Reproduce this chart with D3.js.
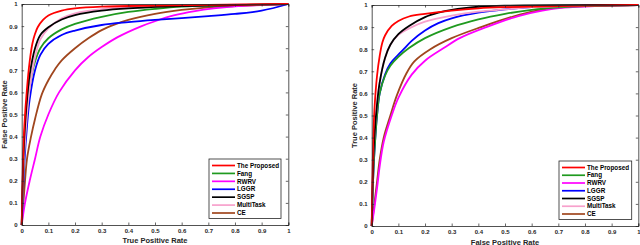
<!DOCTYPE html>
<html>
<head>
<meta charset="utf-8">
<script src="https://cdn.jsdelivr.net/npm/d3@7"></script>
<style>
  body { margin: 0; background: #fff; }
  svg { display: block; font-family: "Liberation Sans", Arial, sans-serif; }
</style>
</head>
<body>
<div id="chart"></div>
<script>
// ---------------- data ----------------
var methods = ["The Proposed", "Fang", "RWRV", "LGGR", "SGSP", "MultiTask", "CE"];
var colors  = ["#ff0000", "#1f9a1f", "#ff00ff", "#0000ff", "#000000", "#f7a1cc", "#a0461e"];
var ticks = [0, 0.1, 0.2, 0.3, 0.4, 0.5, 0.6, 0.7, 0.8, 0.9, 1];

// left panel curves [x, y]
var leftProposed = [[0,0],[0.005,0.3],[0.01,0.45],[0.02,0.62],[0.03,0.74],[0.04,0.82],[0.05,0.865],[0.06,0.895],[0.08,0.928],[0.1,0.948],[0.15,0.97],[0.2,0.98],[0.3,0.988],[0.5,0.993],[0.7,0.996],[1,1]];
var leftFang = [[0,0],[0.005,0.2],[0.01,0.35],[0.02,0.52],[0.03,0.63],[0.05,0.74],[0.07,0.8],[0.1,0.845],[0.15,0.885],[0.2,0.91],[0.3,0.942],[0.4,0.964],[0.5,0.978],[0.6,0.988],[0.8,0.995],[1,1]];
var leftRWRV = [[0,0],[0.0125,0.1],[0.03,0.2],[0.05,0.3],[0.07,0.4],[0.1,0.5],[0.14,0.6],[0.2,0.7],[0.25,0.76],[0.3,0.805],[0.36,0.85],[0.45,0.9],[0.5,0.922],[0.57,0.948],[0.65,0.968],[0.72,0.98],[0.8,0.989],[0.9,0.995],[1,1]];
var leftLGGR = [[0,0],[0.005,0.15],[0.01,0.28],[0.02,0.45],[0.03,0.57],[0.05,0.7],[0.07,0.77],[0.1,0.82],[0.15,0.86],[0.2,0.88],[0.3,0.905],[0.4,0.918],[0.5,0.928],[0.6,0.936],[0.7,0.945],[0.8,0.955],[0.9,0.97],[1,1]];
var leftSGSP = [[0,0],[0.005,0.25],[0.01,0.4],[0.02,0.57],[0.03,0.68],[0.05,0.8],[0.07,0.86],[0.1,0.895],[0.15,0.93],[0.2,0.95],[0.3,0.97],[0.4,0.98],[0.6,0.99],[0.8,0.995],[1,1]];
var leftMultiTask = [[0,0],[0.005,0.2],[0.01,0.33],[0.02,0.5],[0.03,0.62],[0.05,0.76],[0.07,0.84],[0.1,0.89],[0.15,0.935],[0.2,0.958],[0.3,0.977],[0.5,0.99],[0.7,0.995],[1,1]];
var leftCE = [[0,0],[0.01,0.16],[0.02,0.3],[0.035,0.4],[0.05,0.48],[0.075,0.59],[0.1,0.655],[0.125,0.705],[0.15,0.745],[0.2,0.8],[0.25,0.845],[0.3,0.882],[0.35,0.908],[0.4,0.928],[0.5,0.955],[0.6,0.973],[0.7,0.985],[0.8,0.991],[0.9,0.996],[1,1]];

// right panel curves [x, y]
var rightProposed = [[0,0],[0.005,0.35],[0.01,0.52],[0.02,0.68],[0.03,0.77],[0.04,0.83],[0.05,0.862],[0.075,0.905],[0.1,0.928],[0.14,0.948],[0.2,0.96],[0.3,0.975],[0.4,0.985],[0.5,0.99],[0.7,0.995],[1,1]];
var rightFang = [[0,0],[0.005,0.2],[0.01,0.33],[0.02,0.5],[0.03,0.6],[0.05,0.68],[0.07,0.725],[0.1,0.765],[0.14,0.805],[0.2,0.85],[0.3,0.9],[0.4,0.935],[0.5,0.96],[0.6,0.978],[0.7,0.989],[0.8,0.995],[1,1]];
var rightRWRV = [[0,0],[0.01,0.08],[0.02,0.17],[0.03,0.27],[0.045,0.38],[0.075,0.5],[0.1,0.58],[0.15,0.685],[0.2,0.748],[0.27,0.805],[0.33,0.85],[0.43,0.9],[0.55,0.95],[0.64,0.975],[0.72,0.988],[0.85,0.996],[1,1]];
var rightLGGR = [[0,0],[0.005,0.2],[0.01,0.33],[0.02,0.5],[0.03,0.6],[0.05,0.685],[0.07,0.735],[0.1,0.775],[0.12,0.8],[0.15,0.838],[0.2,0.885],[0.25,0.918],[0.3,0.94],[0.4,0.965],[0.5,0.98],[0.6,0.99],[0.8,0.997],[1,1]];
var rightSGSP = [[0,0],[0.005,0.25],[0.01,0.4],[0.02,0.55],[0.03,0.65],[0.05,0.76],[0.07,0.82],[0.1,0.868],[0.14,0.905],[0.2,0.945],[0.25,0.965],[0.3,0.978],[0.4,0.992],[0.5,0.997],[1,1]];
var rightMultiTask = [[0,0],[0.005,0.25],[0.01,0.4],[0.02,0.55],[0.03,0.65],[0.05,0.76],[0.07,0.82],[0.1,0.865],[0.15,0.9],[0.2,0.925],[0.3,0.952],[0.4,0.97],[0.5,0.98],[0.6,0.99],[0.8,0.997],[1,1]];
var rightCE = [[0,0],[0.01,0.1],[0.02,0.2],[0.03,0.3],[0.045,0.4],[0.07,0.5],[0.094,0.59],[0.13,0.69],[0.16,0.745],[0.22,0.8],[0.3,0.85],[0.41,0.9],[0.53,0.948],[0.62,0.975],[0.7,0.988],[0.85,0.997],[1,1]];

var leftSeries  = [leftProposed, leftFang, leftRWRV, leftLGGR, leftSGSP, leftMultiTask, leftCE];
var rightSeries = [rightProposed, rightFang, rightRWRV, rightLGGR, rightSGSP, rightMultiTask, rightCE];

// draw order: back to front (brown/magenta first, red on top)
var drawOrder = [6, 2, 3, 1, 5, 4, 0];

var svg = d3.select("#chart").append("svg")
    .attr("width", 640).attr("height", 245);

function panel(opt) {
    var x = d3.scaleLinear().domain([0, 1]).range([opt.left, opt.right]);
    var y = d3.scaleLinear().domain([0, 1]).range([opt.bottom, opt.top]);
    var g = svg.append("g");
    var axisColor = "#262626";

    // curves
    var line = d3.line()
        .x(function (d) { return x(d[0]); })
        .y(function (d) { return y(d[1]); })
        .curve(d3.curveCatmullRom.alpha(0.5));
    drawOrder.forEach(function (i) {
        g.append("path")
            .datum(opt.series[i])
            .attr("fill", "none")
            .attr("stroke", colors[i])
            .attr("stroke-width", 1.8)
            .attr("stroke-linejoin", "round")
            .attr("d", line);
    });

    // axes (MATLAB style: inward ticks on all four sides, box on)
    var tickLen = 2.5;
    g.append("g").attr("transform", "translate(0," + opt.bottom + ")")
        .call(d3.axisBottom(x).tickValues(ticks).tickSize(-tickLen).tickPadding(4)
            .tickFormat(d3.format("~g")));
    g.append("g").attr("transform", "translate(0," + opt.top + ")")
        .call(d3.axisTop(x).tickValues(ticks).tickSize(-tickLen).tickFormat(""));
    g.append("g").attr("transform", "translate(" + opt.left + ",0)")
        .call(d3.axisLeft(y).tickValues(ticks).tickSize(-tickLen).tickPadding(4)
            .tickFormat(d3.format("~g")));
    g.append("g").attr("transform", "translate(" + opt.right + ",0)")
        .call(d3.axisRight(y).tickValues(ticks).tickSize(-tickLen).tickFormat(""));
    g.selectAll(".domain").attr("stroke", axisColor).attr("stroke-width", 0.8);
    g.selectAll(".tick line").attr("stroke", axisColor).attr("stroke-width", 0.7);
    g.selectAll(".tick text")
        .attr("fill", axisColor)
        .style("font-size", "6px")
        .style("font-weight", "bold");

    // axis titles
    g.append("text")
        .attr("x", (opt.left + opt.right) / 2)
        .attr("y", opt.xTitleY)
        .attr("text-anchor", "middle")
        .attr("fill", axisColor)
        .style("font-size", "7.5px").style("font-weight", "bold")
        .text(opt.xTitle);
    g.append("text")
        .attr("transform", "translate(" + opt.yTitleX + "," + (opt.top + opt.bottom) / 2 + ") rotate(-90)")
        .attr("text-anchor", "middle")
        .attr("fill", axisColor)
        .style("font-size", "7.5px").style("font-weight", "bold")
        .text(opt.yTitle);

    // legend
    var lg = g.append("g");
    lg.append("rect")
        .attr("x", opt.legend.x).attr("y", opt.legend.y)
        .attr("width", opt.legend.w).attr("height", opt.legend.h)
        .attr("fill", "#fff").attr("stroke", axisColor).attr("stroke-width", 0.8);
    var rowH = (opt.legend.h - 12) / (methods.length - 1);
    methods.forEach(function (m, i) {
        var ry = opt.legend.y + 6.5 + i * rowH;
        lg.append("line")
            .attr("x1", opt.legend.x + 3).attr("x2", opt.legend.x + 26)
            .attr("y1", ry).attr("y2", ry)
            .attr("stroke", colors[i]).attr("stroke-width", 1.7);
        lg.append("text")
            .attr("x", opt.legend.x + 28).attr("y", ry + 2.2)
            .attr("fill", "#000")
            .style("font-size", "6.3px").style("font-weight", "bold")
            .text(m);
    });
}

panel({
    left: 21.7, right: 288.3, top: 4, bottom: 225,
    series: leftSeries,
    xTitle: "True Positive Rate", xTitleY: 243,
    yTitle: "False Positive Rate", yTitleX: 6.5,
    legend: { x: 209, y: 159, w: 72, h: 59.5 }
});

panel({
    left: 371.7, right: 638.3, top: 5, bottom: 226,
    series: rightSeries,
    xTitle: "False Positive Rate", xTitleY: 244.5,
    yTitle: "True Positive Rate", yTitleX: 356.5,
    legend: { x: 559, y: 161, w: 72.7, h: 58.5 }
});
</script>
</body>
</html>
